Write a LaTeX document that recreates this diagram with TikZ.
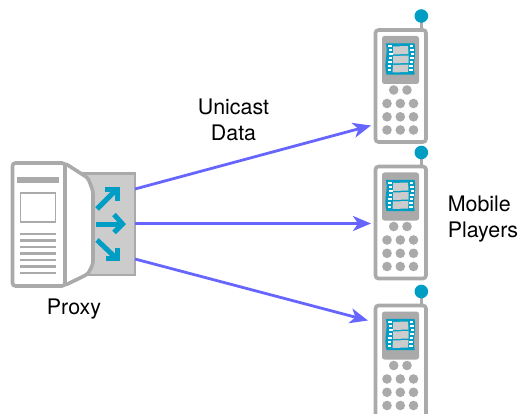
\documentclass[tikz,border=0pt]{standalone}
\usepackage{fontspec}
\setmainfont{TeX Gyre Heros}
\usepackage{tikz}
\usetikzlibrary{arrows.meta}
\definecolor{teal1}{RGB}{0,158,196}
\definecolor{grey1}{RGB}{170,170,170}
\definecolor{grey2}{RGB}{204,204,204}
\definecolor{link1}{RGB}{102,102,255}
\tikzset{
	label1/.style={align=center,font=\fontsize{21.4}{25.5}\selectfont},
	link/.style={draw=link1,line width=2.8pt,-{Stealth[length=18pt,width=15pt,inset=5pt]}},
	shell/.style={draw=grey1,line width=3.6pt,fill=white,rounded corners=3pt},
	out1/.style={draw=teal1,line width=5pt,line join=miter},
	phone/.pic={
		\draw[grey1,line width=3pt] (421.5,16) -- (421.5,30);
		\fill[teal1] (421.3,16) circle (6.8);
		\draw[shell] (375.5,30) rectangle (426,142);
		\fill[grey1,rounded corners=2.5pt] (382,36) rectangle (419,84);
		\draw[teal1,line width=1.2pt,fill=teal1] (386.5,44) .. controls (389,53) and (384,63) .. (387,74) -- (414,74) .. controls (412,63) and (416,53) .. (414,44) -- cycle;
		\fill[grey2] (393,46.5) -- (408,46) -- (408.5,54) -- (393,54.5) -- cycle;
		\fill[grey2] (393,56) -- (408.5,55.5) -- (408.5,63) -- (393,63.5) -- cycle;
		\fill[grey2] (393,65) -- (408.5,64.5) -- (408,72) -- (392.5,72.5) -- cycle;
		\foreach \y/\d in {46/0,50/0.8,54/1,58/0.6,62/0,66/-0.5,70/-0.2} {
			\fill[white] (388+\d,\y-0.8) rectangle (391.5+\d,\y+1.4);
			\fill[white] (409.5+\d,\y-0.8) rectangle (413+\d,\y+1.4);
		}
		\foreach \x in {393.7,407} \fill[grey1] (\x,90) circle (4.8);
		\foreach \y in {103.5,116.8,130} \foreach \x in {387,400.3,413.5} \fill[grey1] (\x,\y) circle (4.8);
	}
}
\begin{document}
\begin{tikzpicture}[x=1pt,y=-1pt]
	\useasboundingbox (0,0) rectangle (519,414);
	\clip (0,0) rectangle (519,414);

	\coordinate (out1) at (135,189);
	\coordinate (out2) at (135,223.5);
	\coordinate (out3) at (135,259);
	\coordinate (in1) at (371,125.5);
	\coordinate (in2) at (371,223.5);
	\coordinate (in3) at (368,320.5);

	\draw[draw=grey1,fill=grey2,line width=2.4pt] (82,173.5) rectangle (135,275);
	\draw[shell] (64.5,163) -- (88,178) -- (93,191) -- (93,264) -- (88,274) -- (64.5,285.5) -- cycle;
	\draw[shell] (12.5,163) rectangle (65,286);
	\fill[grey1] (17,177) rectangle (59,183.5);
	\draw[grey1,line width=1.3pt] (20.5,193) rectangle (55.5,222);
	\foreach \y in {234,240.5,247,253.5,260,266.5,273}
		\draw[grey1,line width=2.6pt] (19.5,\y) -- (56,\y);

	\draw[out1] (97,209) -- (116,190);
	\draw[out1] (105,189.5) -- (117.5,189.5) -- (117.5,201);
	\draw[out1] (96,224) -- (121,224);
	\draw[out1] (114,214.5) -- (122.5,224) -- (114,232.5);
	\draw[out1] (97,240) -- (116,258);
	\draw[out1] (106,258.5) -- (117.5,258.5) -- (117.5,248);

	\pic at (0,0) {phone};
	\pic at (0,136.5) {phone};
	\pic at (0,275.5) {phone};

	\draw[link] (out1) -- (in1);
	\draw[link] (out2) -- (in2);
	\draw[link] (out3) -- (in3);

	\node[label1] (unicast) at (233.5,120) {Unicast\\Data};
	\node[label1] (proxy) at (74,309) {Proxy};
	\node[label1,align=left] (players) at (483,219) {Mobile\\Players};
\end{tikzpicture}
\end{document}
